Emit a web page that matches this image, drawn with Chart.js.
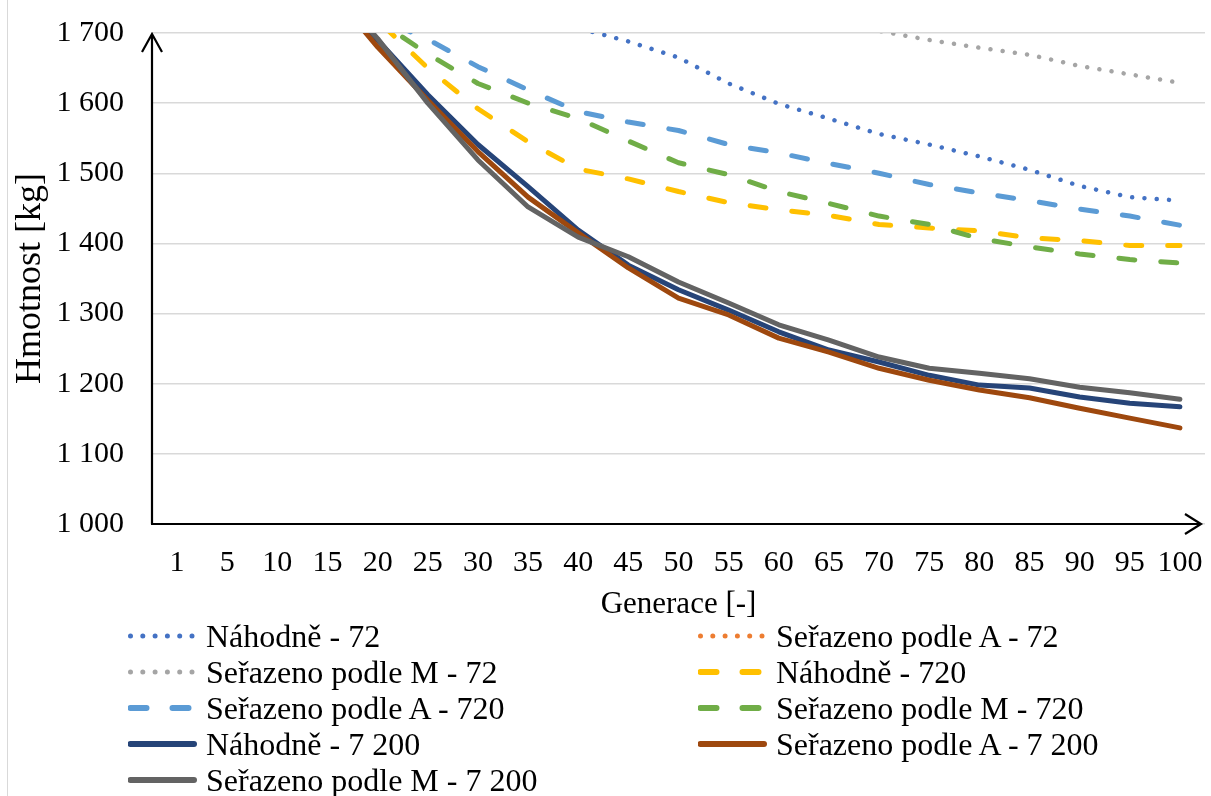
<!DOCTYPE html>
<html>
<head>
<meta charset="utf-8">
<script src="https://cdn.jsdelivr.net/npm/chart.js@4.4.1/dist/chart.umd.min.js"></script>
<style>
  body { margin: 0; background: #fff; font-family: "Liberation Serif", "Times New Roman", serif; }
  #wrap { position: relative; width: 1211px; height: 796px; overflow: hidden; background: #fff; }
  #frame { position: absolute; left: 7px; top: 0; width: 1px; height: 796px; background: #d9d9d9; }
  #chart { position: absolute; left: 0; top: 0; }
  .item { position: absolute; height: 36px; display: flex; align-items: center; white-space: nowrap;
          font-size: 32px; color: #000; }
  .item svg { width: 70px; height: 12px; margin-right: 8px; flex: none; }
</style>
</head>
<body>
<div id="wrap">
  <div id="frame"></div>
  <canvas id="chart" width="1211" height="625"></canvas>
  <div id="legend"></div>
</div>
<script>
// generations on x axis
const generations = [1, 5, 10, 15, 20, 25, 30, 35, 40, 45, 50, 55, 60, 65, 70, 75, 80, 85, 90, 95, 100];

// weights [kg], values above 1 700 are cut off by the axis
const nahodne72    = [2420, 2300, 2170, 2050, 1960, 1880, 1810, 1750, 1707, 1688, 1665, 1628, 1599, 1578, 1556, 1541, 1524, 1505, 1482, 1466, 1461];
const podleA72     = [2450, 2340, 2220, 2110, 2020, 1950, 1890, 1850, 1820, 1800, 1785, 1772, 1760, 1752, 1745, 1740, 1735, 1730, 1726, 1722, 1719];
const podleM72     = [2400, 2290, 2170, 2060, 1980, 1910, 1860, 1820, 1790, 1765, 1745, 1728, 1715, 1708, 1703, 1690, 1679, 1669, 1653, 1641, 1629];
const nahodne720   = [2300, 2150, 2000, 1840, 1718, 1650, 1592, 1545, 1506, 1492, 1474, 1458, 1448, 1440, 1427, 1422, 1418, 1408, 1404, 1397, 1397];
const podleA720    = [2350, 2200, 2050, 1880, 1722, 1691, 1652, 1619, 1588, 1573, 1561, 1541, 1529, 1514, 1500, 1484, 1472, 1461, 1449, 1439, 1426];
const podleM720    = [2330, 2180, 2030, 1860, 1718, 1670, 1628, 1600, 1578, 1546, 1515, 1498, 1474, 1457, 1439, 1427, 1407, 1395, 1385, 1377, 1372];
const nahodne7200  = [2250, 2120, 1990, 1770, 1690, 1612, 1541, 1481, 1419, 1369, 1334, 1305, 1274, 1248, 1231, 1212, 1198, 1194, 1181, 1172, 1167];
const podleA7200   = [2240, 2110, 1980, 1765, 1680, 1604, 1531, 1466, 1415, 1365, 1322, 1298, 1265, 1245, 1222, 1205, 1191, 1180, 1165, 1151, 1137];
const podleM7200   = [2260, 2130, 2000, 1772, 1692, 1600, 1519, 1452, 1409, 1381, 1345, 1315, 1284, 1262, 1238, 1222, 1215, 1207, 1195, 1187, 1178];

const seriesNames = [
  'Náhodně - 72', 'Seřazeno podle A - 72', 'Seřazeno podle M - 72',
  'Náhodně - 720', 'Seřazeno podle A - 720', 'Seřazeno podle M - 720',
  'Náhodně - 7 200', 'Seřazeno podle A - 7 200', 'Seřazeno podle M - 7 200'
];
const seriesData = [nahodne72, podleA72, podleM72, nahodne720, podleA720, podleM720, nahodne7200, podleA7200, podleM7200];
const seriesColors = ['#4472C4', '#ED7D31', '#A5A5A5', '#FFC000', '#5B9BD5', '#70AD47', '#264478', '#9E480E', '#636363'];
const seriesKinds = ['dot', 'dot', 'dot', 'dash', 'dash', 'dash', 'solid', 'solid', 'solid'];

const yMin = 1000, yMax = 1700, yStep = 100;

const FONT = '"Liberation Serif", "Times New Roman", serif';

const lineStyle = {
  dot:   { width: 4.5, dash: [0.01, 12.3] },
  dash:  { width: 5,   dash: [16, 26] },
  solid: { width: 5,   dash: [] }
};

const datasets = seriesData.map((d, i) => ({
  label: seriesNames[i],
  data: d,
  borderColor: seriesColors[i],
  backgroundColor: seriesColors[i],
  borderWidth: lineStyle[seriesKinds[i]].width,
  borderDash: lineStyle[seriesKinds[i]].dash,
  borderCapStyle: 'round',
  borderJoinStyle: 'round',
  pointRadius: 0,
  tension: 0,
  fill: false,
  order: -i   // later series on top, like the original
}));

// black axes with open arrow heads
const arrowAxes = {
  id: 'arrowAxes',
  afterDatasetsDraw(chart) {
    const { ctx, chartArea: a } = chart;
    ctx.save();
    ctx.strokeStyle = '#000';
    ctx.lineWidth = 2.2;
    ctx.lineJoin = 'miter';
    ctx.beginPath();
    ctx.moveTo(a.left, a.bottom);
    ctx.lineTo(a.left, a.top + 1);
    ctx.moveTo(a.left - 10, a.top + 19);
    ctx.lineTo(a.left, a.top + 1);
    ctx.lineTo(a.left + 10, a.top + 19);
    ctx.stroke();
    const tip = a.right - 4;
    ctx.beginPath();
    ctx.moveTo(a.left - 1, a.bottom);
    ctx.lineTo(tip, a.bottom);
    ctx.moveTo(tip - 16, a.bottom - 10);
    ctx.lineTo(tip, a.bottom);
    ctx.lineTo(tip - 16, a.bottom + 10);
    ctx.stroke();
    ctx.restore();
  }
};

new Chart(document.getElementById('chart'), {
  type: 'line',
  data: { labels: generations, datasets: datasets },
  options: {
    responsive: false,
    animation: false,
    devicePixelRatio: 1,
    layout: { padding: { top: 33, right: 6, left: 0, bottom: 0 } },
    plugins: { legend: { display: false }, tooltip: { enabled: false } },
    scales: {
      x: {
        type: 'category',
        offset: true,
        grid: { display: false, drawTicks: false },
        border: { display: false },
        ticks: { color: '#000', font: { family: FONT, size: 30 }, padding: 21, maxRotation: 0, autoSkip: false },
        title: { display: true, text: 'Generace [-]', color: '#000', font: { family: FONT, size: 31 }, padding: { top: 0, bottom: 2 } },
        afterFit(s) { s.height = 101; s.paddingLeft = 0; s.paddingRight = 0; }
      },
      y: {
        min: yMin, max: yMax,
        grid: { color: '#d9d9d9', lineWidth: 1.5, drawTicks: false },
        border: { display: false },
        ticks: {
          stepSize: yStep, color: '#000', padding: 28,
          font: { family: FONT, size: 30 },
          callback: v => String(v).replace(/\B(?=(\d{3})+(?!\d))/g, ' ')
        },
        title: { display: true, text: 'Hmotnost [kg]', color: '#000', font: { family: FONT, size: 36 }, padding: { top: 9, bottom: 0 } },
        afterFit(s) { s.width = 152; s.paddingTop = 0; s.paddingBottom = 0; }
      }
    }
  },
  plugins: [arrowAxes]
});

// legend in two columns, built from the same series lists
function sampleSvg(kind, color) {
  const st = lineStyle[kind];
  let line;
  if (kind === 'dot') {
    line = '<line x1="2.5" y1="6" x2="66" y2="6" stroke="' + color + '" stroke-width="5" stroke-linecap="round" stroke-dasharray="0 12.3"/>';
  } else if (kind === 'dash') {
    line = '<line x1="2.5" y1="6" x2="64" y2="6" stroke="' + color + '" stroke-width="' + (st.width + 1) + '" stroke-linecap="round" stroke-dasharray="16 26"/>';
  } else {
    line = '<line x1="2.5" y1="6" x2="66" y2="6" stroke="' + color + '" stroke-width="' + (st.width + 1) + '" stroke-linecap="round"/>';
  }
  return '<svg viewBox="0 0 70 12">' + line + '</svg>';
}
const legendEl = document.getElementById('legend');
seriesNames.forEach((name, i) => {
  const col = i % 2, row = Math.floor(i / 2);
  const el = document.createElement('div');
  el.className = 'item';
  el.style.left = (col === 0 ? 128 : 698) + 'px';
  el.style.top = (636 + row * 36 - 18) + 'px';
  el.innerHTML = sampleSvg(seriesKinds[i], seriesColors[i]) + '<span>' + name + '</span>';
  legendEl.appendChild(el);
});
</script>
</body>
</html>
